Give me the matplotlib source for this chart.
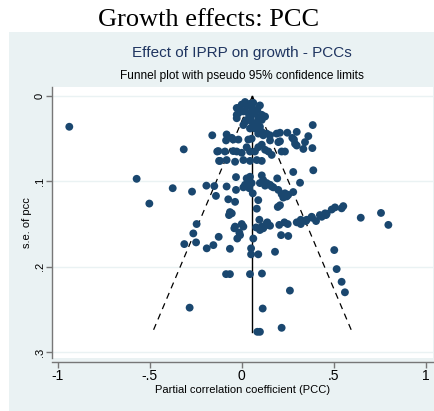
import numpy as np
import matplotlib
matplotlib.use('Agg')
import matplotlib.pyplot as plt

# partial correlation coefficients and their standard errors
pcc = [
    # se < .04
    0.018, 0.045, 0.099, 0.063, -0.018, -0.027, -0.027, -0.018, -0.027, 0.009,
    0.036, 0.072, 0.090, 0.027, 0.054, 0.082, 0.109, 0.127, 0.109, 0.045,
    0.009, 0.099, 0.072, 0.000, 0.060, 0.030, 0.085, 0.050, 0.020, 0.065,
    0.386, -0.937,
    # .04 - .06
    -0.160, -0.082, -0.085, -0.054, -0.046, -0.018, 0.036, 0.054, 0.090, 0.109,
    0.117, 0.136, 0.154, 0.190, 0.199, 0.154, 0.208, 0.248, 0.299, 0.275,
    0.284, 0.362, 0.344, 0.290, 0.299, 0.208, 0.027, 0.090, 0.109,
    # .06 - .08
    -0.315, -0.133, -0.123, 0.335, 0.384, 0.217, 0.235, -0.127, -0.091, -0.046,
    -0.027, 0.000, 0.045, 0.072, 0.127, 0.145, 0.163, -0.118, -0.082, -0.036,
    0.009, 0.045, 0.082, 0.109,
    # .08 - .13
    0.280, 0.389, 0.317, -0.571, -0.031, 0.027, 0.045, 0.036, 0.018, 0.054,
    0.041, 0.009, 0.109, 0.117, 0.136, 0.163, 0.099, 0.193, -0.375, -0.270,
    -0.192, -0.149, -0.140, -0.082, -0.031, -0.073, -0.036, 0.060, 0.090, 0.217,
    0.235, 0.253, 0.280, 0.245, 0.226, 0.208, -0.502, 0.196, 0.082, 0.154,
    0.172, 0.199, 0.127,
    # .13 - .17
    -0.064, -0.054, 0.489, 0.507, 0.543, 0.552, 0.462, 0.453, 0.425, 0.458,
    0.435, 0.380, 0.404, 0.382, 0.349, 0.321, 0.321, 0.353, 0.647, 0.757,
    0.797, -0.069, -0.040, -0.024, -0.013, 0.000, 0.009, -0.036, -0.009, 0.096,
    0.078, 0.099, 0.127, 0.139, 0.154, 0.109, 0.136, 0.117, 0.204, 0.232,
    0.250, 0.214, 0.253, 0.299, 0.063, -0.245, -0.263, -0.125,
    # > .17
    -0.248, -0.312, -0.190, -0.154, -0.064, 0.051, 0.051, 0.090, 0.181, 0.503,
    0.516, 0.543, 0.561, -0.085, -0.064, 0.045, 0.110, 0.262, -0.283, 0.114,
    0.085, 0.099, 0.217,
]
se = [
    0.007, 0.009, 0.011, 0.008, 0.014, 0.022, 0.014, 0.020, 0.026, 0.018,
    0.020, 0.020, 0.026, 0.028, 0.030, 0.032, 0.028, 0.024, 0.022, 0.038,
    0.034, 0.036, 0.038, 0.010, 0.015, 0.012, 0.016, 0.024, 0.030, 0.034,
    0.034, 0.036,
    0.046, 0.045, 0.052, 0.049, 0.051, 0.051, 0.051, 0.050, 0.044, 0.042,
    0.046, 0.044, 0.046, 0.044, 0.054, 0.052, 0.043, 0.043, 0.042, 0.049,
    0.051, 0.047, 0.054, 0.056, 0.058, 0.053, 0.060, 0.060, 0.057,
    0.0625, 0.065, 0.076, 0.062, 0.061, 0.065, 0.065, 0.0645, 0.065, 0.0645,
    0.065, 0.0665, 0.065, 0.065, 0.063, 0.065, 0.069, 0.076, 0.075, 0.077,
    0.075, 0.076, 0.075, 0.076,
    0.089, 0.087, 0.1016, 0.097, 0.095, 0.0965, 0.0946, 0.0985, 0.104, 0.102,
    0.108, 0.107, 0.093, 0.0985, 0.102, 0.106, 0.102, 0.0965, 0.108, 0.112,
    0.105, 0.1055, 0.117, 0.106, 0.110, 0.121, 0.124, 0.114, 0.122, 0.115,
    0.114, 0.1157, 0.1125, 0.1176, 0.119, 0.128, 0.126, 0.130, 0.132, 0.104,
    0.107, 0.110, 0.105,
    0.136, 0.1375, 0.133, 0.1305, 0.1316, 0.129, 0.138, 0.1375, 0.1395, 0.1395,
    0.1415, 0.1415, 0.1465, 0.1426, 0.1465, 0.145, 0.150, 0.145, 0.1426, 0.137,
    0.151, 0.1395, 0.155, 0.167, 0.160, 0.150, 0.153, 0.153, 0.163, 0.145,
    0.154, 0.157, 0.152, 0.148, 0.152, 0.153, 0.149, 0.155, 0.151, 0.148,
    0.150, 0.163, 0.164, 0.148, 0.167, 0.150, 0.161, 0.165,
    0.1715, 0.1735, 0.1785, 0.1747, 0.179, 0.1785, 0.1855, 0.1855, 0.1825, 0.1805,
    0.2028, 0.2177, 0.230, 0.2087, 0.2087, 0.2087, 0.208, 0.228, 0.248, 0.249,
    0.2763, 0.2763, 0.2716,
]
pooled = 0.058   # centre of the funnel

xticks = [-1, -0.5, 0, 0.5, 1]
xticklabels = ['-1', '-.5', '0', '.5', '1']
yticks = [0, 0.1, 0.2, 0.3]
yticklabels = ['0', '.1', '.2', '.3']

NAVY = '#1a476f'
BG = '#eaf2f3'

plt.rcParams['font.family'] = ['Liberation Sans', 'DejaVu Sans']
fig = plt.figure(figsize=(4.34, 4.11), dpi=100)

# shaded graph region below the heading
bg = fig.add_axes([9 / 434, 0, 1 - 9 / 434, 1 - 32 / 411], zorder=-1)
bg.set_facecolor(BG)
bg.set_xticks([])
bg.set_yticks([])
for s in bg.spines.values():
    s.set_visible(False)

fig.text(0.48, 1 - 26 / 411, 'Growth effects: PCC', ha='center', va='baseline',
         family='Liberation Serif', fontsize=19)
fig.text(0.557, 1 - 53 / 411, 'Effect of IPRP on growth - PCCs', ha='center',
         va='center', fontsize=11, color='#1f3560')
fig.text(0.557, 1 - 76 / 411, 'Funnel plot with pseudo 95% confidence limits',
         ha='center', va='center', fontsize=8.6)

ax = fig.add_axes([52 / 434, 1 - 358 / 411, (432.7 - 52) / 434, (358 - 87) / 411])
ax.set_facecolor('white')

# funnel: pseudo 95% limits and the pooled estimate
se_max = max(se)
ax.plot([pooled, pooled - 1.96 * se_max], [0, se_max], color='black', lw=0.9,
        ls=(0, (5, 4)), zorder=2)
ax.plot([pooled, pooled + 1.96 * se_max], [0, se_max], color='black', lw=0.9,
        ls=(0, (5, 4)), zorder=2)
ax.plot([pooled, pooled], [0, se_max], color='black', lw=1.0, zorder=2)

ax.scatter(pcc, se, s=32, color=NAVY, edgecolors='none', zorder=3)

ax.set_xlim(-1.031, 1.038)
ax.set_ylim(0.307, -0.0106)
ax.set_xticks(xticks)
ax.set_xticklabels(xticklabels, fontsize=8)
ax.set_yticks(yticks)
ax.set_yticklabels(yticklabels, fontsize=8, rotation=90, va='center')
ax.grid(axis='y', color=BG, lw=1.0)
ax.set_axisbelow(True)

for side in ('top', 'right'):
    ax.spines[side].set_visible(False)
ax.spines['bottom'].set_position(('outward', 3))
for side in ('left', 'bottom'):
    ax.spines[side].set_color('#777777')
    ax.spines[side].set_linewidth(1.0)
ax.tick_params(colors='#777777', labelcolor='black', length=4, width=1.0, pad=1)

ax.set_xlabel('Partial correlation coefficient (PCC)', fontsize=8, labelpad=1)
ax.set_ylabel('s.e. of pcc', fontsize=8, labelpad=2)

fig.savefig('out.png', dpi=100)
